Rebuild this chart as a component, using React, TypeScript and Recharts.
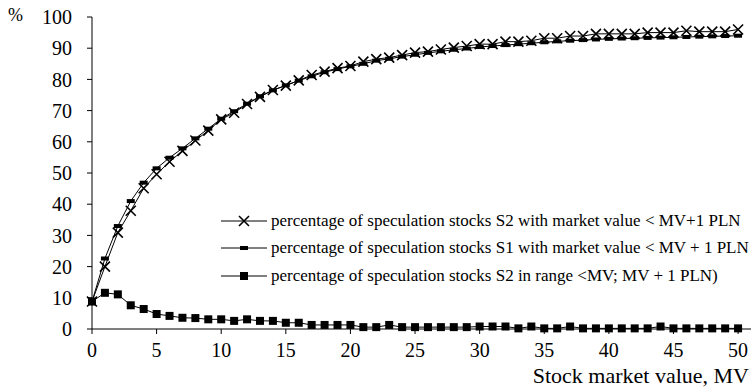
import React from 'react';
import { LineChart, Line, XAxis, YAxis } from 'recharts';

// stock market value MV (PLN)
const mvValues = [
  0, 1, 2, 3, 4, 5, 6, 7, 8, 9, 10, 11, 12, 13, 14, 15, 16, 17, 18, 19, 20, 21, 22, 23, 24, 25,
  26, 27, 28, 29, 30, 31, 32, 33, 34, 35, 36, 37, 38, 39, 40, 41, 42, 43, 44, 45, 46, 47, 48, 49, 50,
];

// % of S2 stocks with market value < MV+1 PLN
const s2Below = [
  8.8, 20.0, 30.9, 37.9, 45.1, 49.6, 53.6, 57.1, 60.4, 63.6, 67.2, 69.3, 72.1, 74.4, 76.6, 78.0,
  79.7, 81.4, 82.5, 83.6, 84.3, 85.7, 86.5, 87.0, 87.8, 88.6, 88.9, 89.6, 90.2, 90.7, 91.3, 91.3,
  92.1, 92.1, 92.4, 93.2, 93.2, 93.9, 93.9, 94.6, 94.6, 94.6, 94.6, 95.0, 95.0, 95.0, 95.6, 95.3,
  95.3, 95.3, 96.0,
];

// % of S1 stocks with market value < MV + 1 PLN
const s1Below = [
  8.8, 22.6, 33.0, 41.0, 46.9, 51.5, 54.9, 57.9, 61.1, 64.2, 67.4, 69.8, 72.2, 74.6, 76.5, 78.1,
  79.6, 81.0, 82.3, 83.3, 84.2, 85.0, 86.0, 86.6, 87.3, 87.9, 88.5, 89.0, 89.5, 89.9, 90.4, 90.7,
  91.0, 91.3, 91.6, 91.9, 92.2, 92.4, 92.6, 92.8, 93.0, 93.1, 93.2, 93.3, 93.4, 93.5, 93.6, 93.7,
  93.8, 93.9, 94.0,
];

// % of S2 stocks in range <MV; MV + 1 PLN)
const s2InRange = [
  8.8, 11.6, 11.1, 7.6, 6.4, 4.8, 4.2, 3.6, 3.5, 3.1, 3.1, 2.6, 3.1, 2.6, 2.6, 2.0, 2.0, 1.3, 1.3,
  1.3, 1.3, 0.6, 0.6, 1.3, 0.6, 0.6, 0.6, 0.6, 0.6, 0.6, 0.8, 0.8, 0.8, 0.2, 0.8, 0.2, 0.2, 0.8,
  0.2, 0.2, 0.2, 0.2, 0.2, 0.2, 0.8, 0.2, 0.2, 0.2, 0.2, 0.2, 0.2,
];

const xTicks = [0, 5, 10, 15, 20, 25, 30, 35, 40, 45, 50];
const yTicks = [0, 10, 20, 30, 40, 50, 60, 70, 80, 90, 100];

const data = mvValues.map((mv, i) => ({
  mv,
  s2Below: s2Below[i],
  s1Below: s1Below[i],
  s2InRange: s2InRange[i],
}));

const FONT = 'Liberation Serif';

const CrossDot = (props: any) => {
  const { cx, cy } = props;
  if (cx == null || cy == null) return null;
  return (
    <path
      d={`M${cx - 5},${cy - 5}L${cx + 5},${cy + 5}M${cx - 5},${cy + 5}L${cx + 5},${cy - 5}`}
      stroke="#000"
      strokeWidth={1.6}
      fill="none"
    />
  );
};

const DashDot = (props: any) => {
  const { cx, cy } = props;
  if (cx == null || cy == null) return null;
  return <rect x={cx - 4} y={cy - 2} width={8} height={4} fill="#000" />;
};

const SquareDot = (props: any) => {
  const { cx, cy } = props;
  if (cx == null || cy == null) return null;
  return <rect x={cx - 4} y={cy - 4} width={8} height={8} fill="#000" />;
};

const legendItems = [
  { key: 's2Below', label: 'percentage of speculation stocks S2 with market value < MV+1 PLN', Dot: CrossDot },
  { key: 's1Below', label: 'percentage of speculation stocks S1 with market value < MV + 1 PLN', Dot: DashDot },
  { key: 's2InRange', label: 'percentage of speculation stocks S2 in range <MV; MV + 1 PLN)', Dot: SquareDot },
];

function ChartLegend() {
  return (
    <div style={{ position: 'absolute', left: 221, top: 207, fontFamily: FONT, fontSize: 17, color: '#000' }}>
      {legendItems.map(({ key, label, Dot }) => (
        <div key={key} style={{ display: 'flex', alignItems: 'center', height: 27.5, whiteSpace: 'nowrap' }}>
          <svg width={50} height={14} style={{ flex: 'none' }}>
            <line x1={0} y1={7} x2={46} y2={7} stroke="#000" strokeWidth={1} />
            <Dot cx={23} cy={7} />
          </svg>
          <span style={{ marginLeft: 0 }}>{label}</span>
        </div>
      ))}
    </div>
  );
}

export default function App() {
  return (
    <div style={{ position: 'absolute', left: 0, top: 0, width: 751, height: 389, background: '#fff', fontFamily: FONT }}>
      <div style={{ position: 'absolute', left: 8, top: 5, fontSize: 18, color: '#000', fontFamily: FONT }}>%</div>
      <LineChart
        width={751}
        height={389}
        data={data}
        margin={{ top: 17, right: 0, bottom: 0, left: 0 }}
        style={{ fontFamily: FONT }}
      >
        <XAxis
          dataKey="mv"
          type="number"
          domain={[0, 51]}
          ticks={xTicks}
          interval={0}
          tickSize={5}
          tickMargin={9}
          height={60}
          stroke="#000"
          tick={{ fill: '#000', fontSize: 20, fontFamily: FONT }}
          label={{ value: 'Stock market value, MV', position: 'insideBottomRight', offset: 2, dy: -4, fill: '#000', fontSize: 22, fontFamily: FONT }}
        />
        <YAxis
          type="number"
          domain={[0, 100]}
          ticks={yTicks}
          interval={0}
          width={92}
          tickSize={5}
          tickMargin={15}
          stroke="#000"
          tick={{ fill: '#000', fontSize: 20, fontFamily: FONT }}
        />
        <Line dataKey="s2Below" stroke="#000" strokeWidth={1} dot={<CrossDot />} isAnimationActive={false} />
        <Line dataKey="s1Below" stroke="#000" strokeWidth={1} dot={<DashDot />} isAnimationActive={false} />
        <Line dataKey="s2InRange" stroke="#000" strokeWidth={1} dot={<SquareDot />} isAnimationActive={false} />
      </LineChart>
      <ChartLegend />
    </div>
  );
}
